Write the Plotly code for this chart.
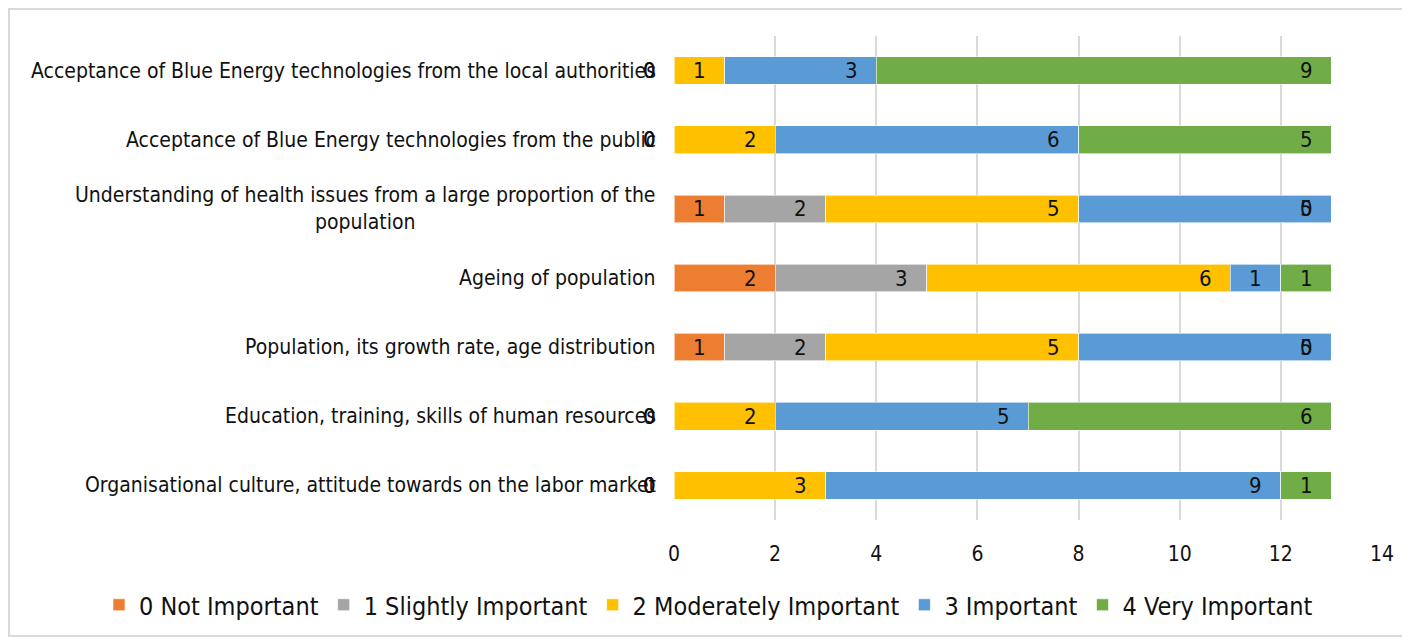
import plotly.graph_objects as go
import numpy as np

categories = [
    "Acceptance of Blue Energy technologies from the local authorities",
    "Acceptance of Blue Energy technologies from the public",
    "Understanding of health issues from a large proportion of the<br>population",
    "Ageing of population",
    "Population, its growth rate, age distribution",
    "Education, training, skills of human resources",
    "Organisational culture, attitude towards on the labor market",
]
series_names = ["0 Not Important", "1 Slightly Important", "2 Moderately Important", "3 Important", "4 Very Important"]
not_important = [0, 0, 1, 2, 1, 0, 0]
slightly_important = [0, 0, 2, 3, 2, 0, 0]
moderately_important = [1, 2, 5, 6, 5, 2, 3]
important = [3, 6, 5, 1, 5, 5, 9]
very_important = [9, 5, 0, 1, 0, 6, 1]
x_ticks = [0, 2, 4, 6, 8, 10, 12, 14]

colors = ["#ED7D31", "#A5A5A5", "#FFC000", "#5B9BD5", "#70AD47"]
FONT = "DejaVu Sans Condensed, Liberation Sans Narrow, sans-serif"
FS = 21

all_series = [not_important, slightly_important, moderately_important, important, very_important]

fig = go.Figure()
for name, vals, col in zip(series_names, all_series, colors):
    fig.add_trace(go.Bar(
        y=categories, x=vals, name=name, orientation="h",
        marker=dict(color=col, line=dict(color="rgba(255,255,255,0.6)", width=1)),
        hoverinfo="x+name",
    ))

annotations = []
cum = np.zeros(len(categories))
for vals in all_series:
    cum = cum + np.array(vals)
    for j, cat in enumerate(categories):
        annotations.append(dict(
            x=float(cum[j]), y=cat, xref="x", yref="y", text=str(vals[j]),
            showarrow=False, xanchor="center", yanchor="middle", xshift=-25,
            font=dict(family=FONT, size=22, color="#111111"),
        ))
for cat in categories:
    annotations.append(dict(
        x=0, y=cat, xref="x", yref="y", text=cat, showarrow=False,
        xanchor="right", yanchor="middle", xshift=-16, align="center",
        font=dict(family=FONT, size=FS, color="#111111"),
    ))

# page body has an 8px margin; figure sized to fit the window
W, H = 1402, 631
L, R, T, B = 666, 28, 28, 119
pw, ph = W - L - R, H - T - B

fig.update_layout(
    width=W, height=H,
    margin=dict(l=L, r=R, t=T, b=B, autoexpand=False),
    barmode="stack", bargap=0.6,
    paper_bgcolor="white", plot_bgcolor="white",
    font=dict(family=FONT, size=FS, color="#111111"),
    xaxis=dict(range=[0, 14], tickvals=x_ticks, showgrid=True, gridcolor="#D9D9D9",
               gridwidth=2, zeroline=False, showline=False, ticks="", automargin=False,
               tickfont=dict(family=FONT, size=FS, color="#111111"), ticklabelstandoff=19),
    yaxis=dict(autorange="reversed", showticklabels=False, showgrid=False, zeroline=False,
               showline=False, ticks="", automargin=False),
    legend=dict(orientation="h", x=(91 - L) / pw, xanchor="left",
                y=-(597 - (T + ph)) / ph, yanchor="middle", bgcolor="rgba(0,0,0,0)",
                traceorder="normal", font=dict(family=FONT, size=25, color="#111111"),
                itemwidth=30),
    annotations=annotations,
    shapes=[dict(type="rect", xref="paper", yref="paper",
                 x0=(1 - L) / pw, x1=(W - 3 - L) / pw,
                 y0=(T + ph - (H - 3)) / ph, y1=(T + ph - 1) / ph,
                 line=dict(color="#D9D9D9", width=2), layer="below")],
)

fig.write_html("out.html")
